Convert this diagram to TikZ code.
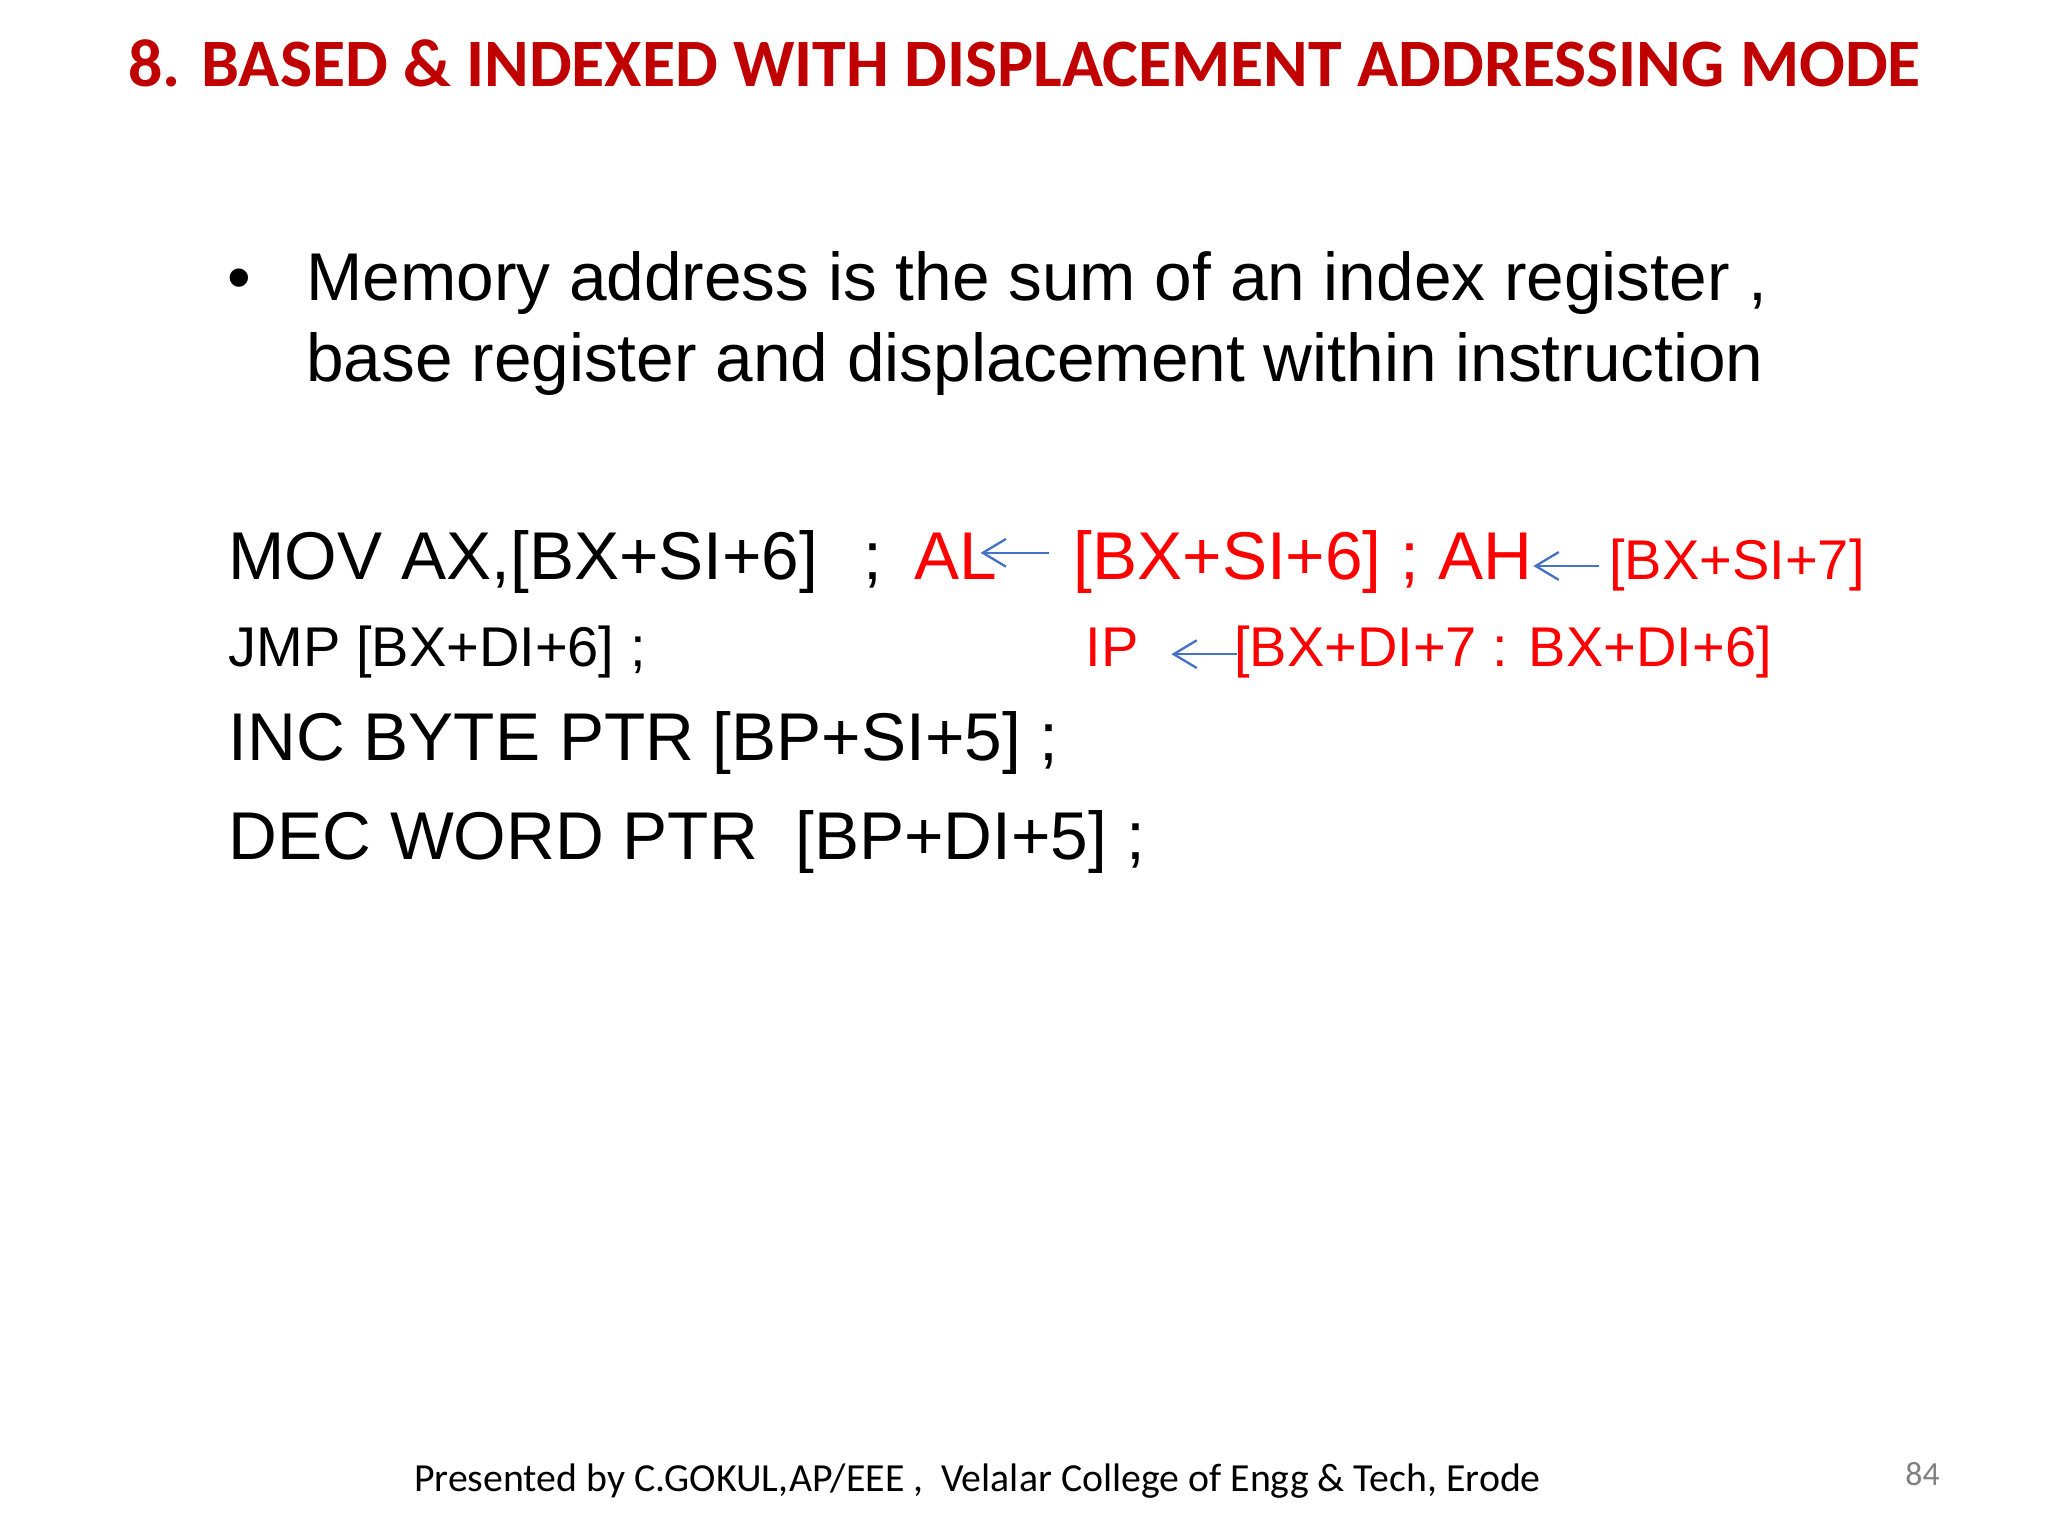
\documentclass[tikz,border=0pt]{standalone}
\usepackage{fontspec}
\setmainfont{Liberation Sans}
\newfontfamily\calfont{Carlito}
\usetikzlibrary{arrows.meta}
\definecolor{ttl}{HTML}{C00000}
\definecolor{rd}{HTML}{FF0000}
\definecolor{bl}{HTML}{4472C4}
\begin{document}
\begin{tikzpicture}[x=0.01cm,y=-0.01cm,
  t/.style={anchor=base west,inner sep=0pt},
  big/.style={t,font=\fontsize{14.6}{17}\selectfont},
  mid/.style={t,font=\fontsize{12.1}{14}\selectfont},
  arr/.style={bl,line width=0.5pt,-{Straight Barb[length=5pt,width=6pt]}}]
\fill[white] (0,0) rectangle (1556,1166);
\node[t,text=ttl,font=\calfont\bfseries\fontsize{14.65}{17}\selectfont] (title) at (97,66) {8. BASED \& INDEXED WITH DISPLACEMENT ADDRESSING MODE};
\node[big] (b) at (172,228) {•};
\node[big] (l1) at (232,228) {Memory address is the sum of an index register ,};
\node[big] (l2) at (232,290) {base register and displacement within instruction};
\node[big] (mov) at (173,440) {MOV AX,[BX+SI+6]};
\node[big] (semi) at (655,440) {;};
\node[big,text=rd] (al) at (694,440) {AL};
\node[big,text=rd] (bx6) at (815,440) {[BX+SI+6] ; AH};
\node[mid,text=rd] (bx7) at (1222,440) {[BX+SI+7]};
\node[mid] (jmp) at (173,506) {JMP [BX+DI+6] ;};
\node[mid,text=rd] (ip) at (824,506) {IP};
\node[mid,text=rd] (ipsrc) at (937,506) {[BX+DI+7 : BX+DI+6]};
\node[big] (inc) at (173,578) {INC BYTE PTR [BP+SI+5] ;};
\node[big] (dec) at (173,653) {DEC WORD PTR\ \ [BP+DI+5] ;};
\node[t,font=\calfont\fontsize{8.6}{10}\selectfont] (foot) at (314,1133) {Presented by C.GOKUL,AP/EEE ,\ \ Velalar College of Engg \& Tech, Erode};
\node[t,text=gray,font=\calfont\fontsize{7.3}{9}\selectfont] (pg) at (1447,1129) {84};
\coordinate (a1s) at (797,420); \coordinate (a1e) at (745,420);
\coordinate (a2s) at (1215,430); \coordinate (a2e) at (1165,430);
\coordinate (a3s) at (940,497); \coordinate (a3e) at (890,497);
\draw[arr] (a1s) -- (a1e);
\draw[arr] (a2s) -- (a2e);
\draw[arr] (a3s) -- (a3e);
\end{tikzpicture}
\end{document}
